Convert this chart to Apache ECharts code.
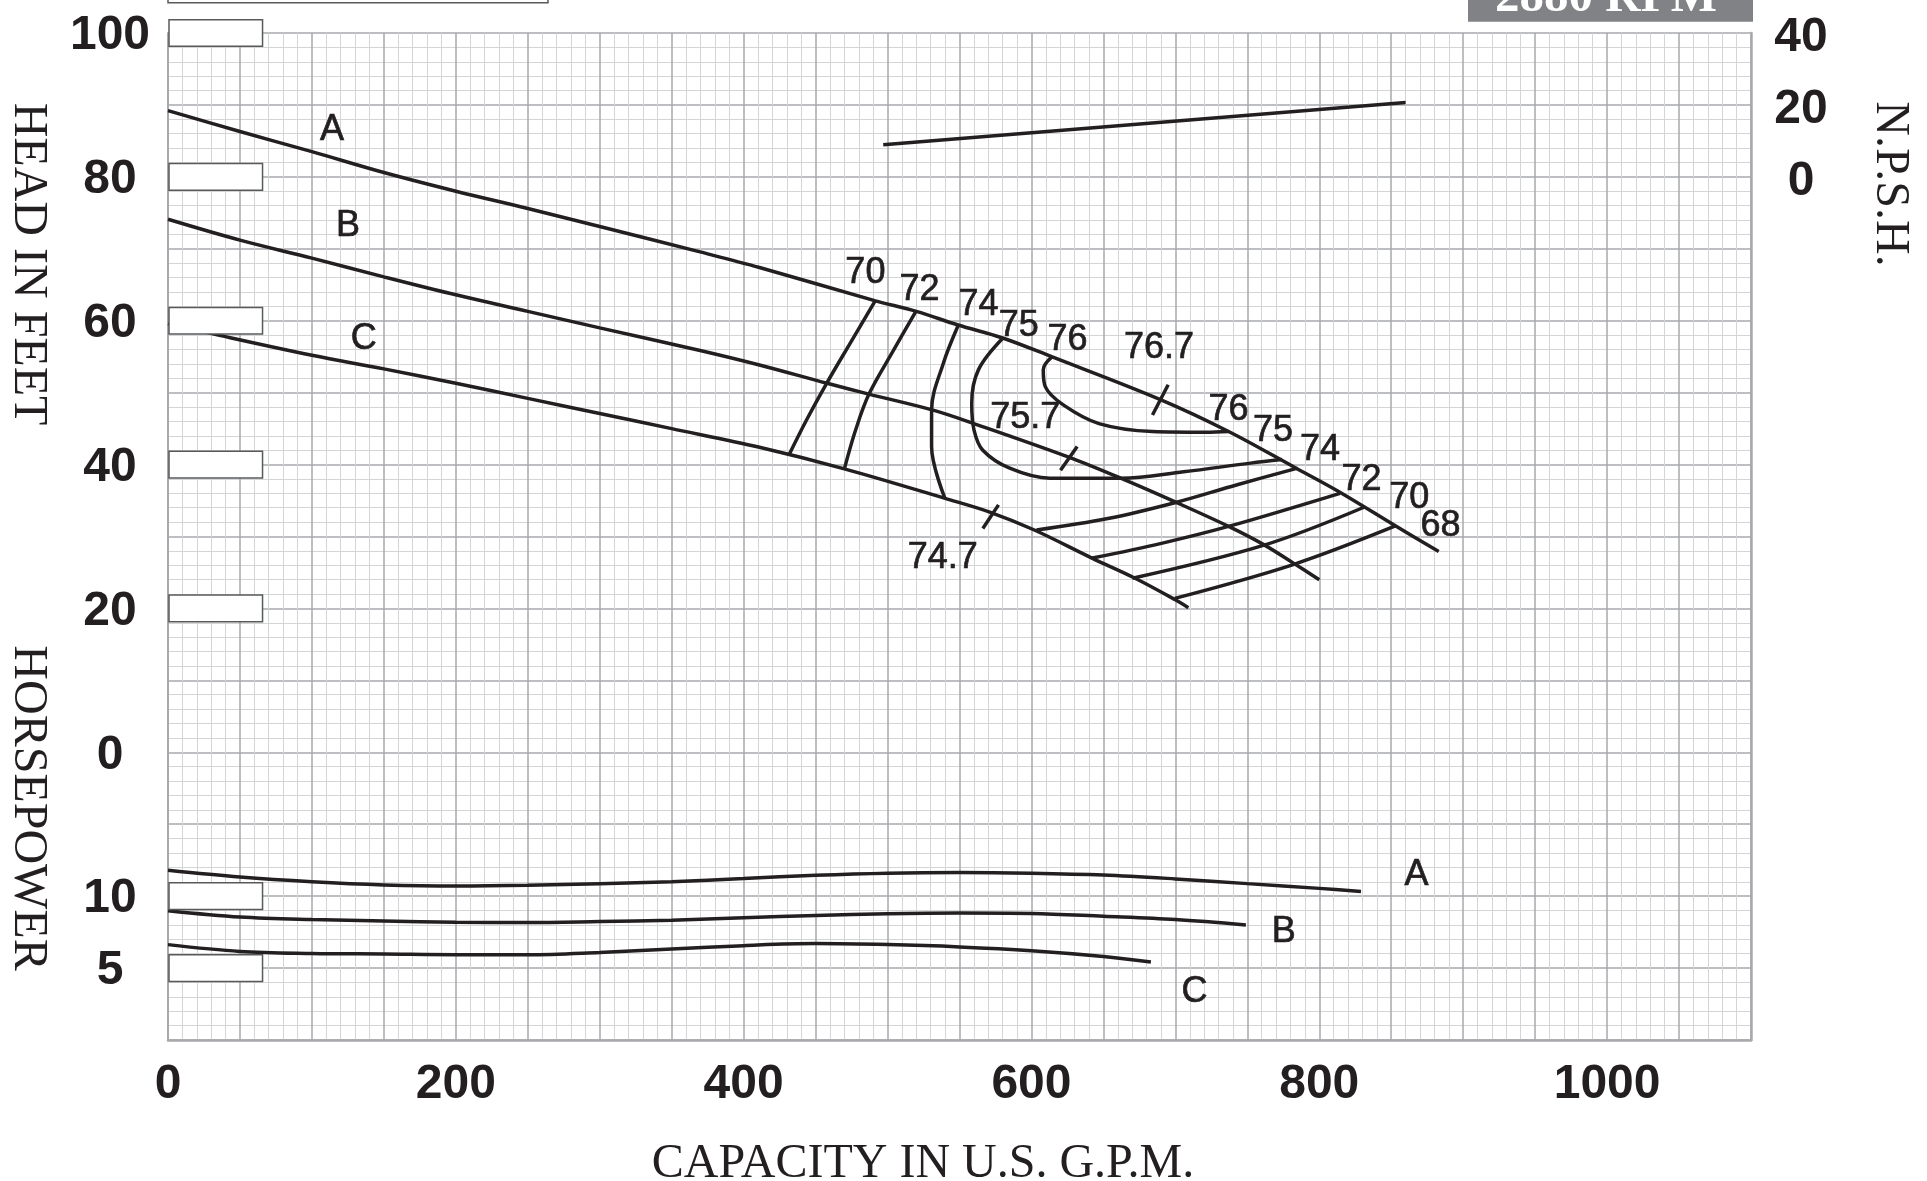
<!DOCTYPE html>
<html><head><meta charset="utf-8">
<script src="https://cdn.jsdelivr.net/npm/echarts@6/dist/echarts.min.js"></script>
<style>html,body{margin:0;padding:0;background:#fff}#c{width:1927px;height:1181px}</style>
</head><body><div id="c"></div>
<script>
// ---- tick label values ----
const headTicks = [0, 20, 40, 60, 80, 100];
const hpTicks = [5, 10];
const npshTicks = [0, 20, 40];
const capacityTicks = [0, 200, 400, 600, 800, 1000];
const headBoxes = [100, 80, 60, 40, 20];
const hpBoxes = [10, 5];

// ---- head curves (GPM, feet) ----
const headA = [[0,89.2],[50,86.3],[100,83.5],[150,80.6],[200,78.0],[250,75.6],[300,73.1],[369,69.6],[411,67.4],[491,62.8],[520,61.3],[549,59.4],[580,57.6],[614,55.0],[690,49.0],[737,44.6],[783,39.6],[814,36.2],[852,31.6],[883,27.9]];
const headB = [[0,74.1],[50,71.2],[100,68.7],[150,66.1],[200,63.6],[250,61.3],[300,59.0],[369,55.9],[411,53.85],[458,51.3],[487,49.8],[531,47.6],[560,45.7],[625,41.1],[662,38.1],[701,34.7],[737,31.4],[762,28.8],[782,26.3],[800,24.0]];
const headC = [[0,59.6],[35,58.0],[100,55.2],[150,53.3],[200,51.3],[250,49.2],[300,47.1],[350,45.0],[411,42.4],[470,39.4],[540,35.3],[571,33.4],[602,30.9],[642,27.0],[672,24.2],[700,21.2],[709,20.1]];

// ---- horsepower curves (GPM, HP) ----
const hpA = [[0,11.8],[50,11.33],[100,11.0],[150,10.78],[200,10.7],[250,10.75],[300,10.87],[350,11.0],[400,11.22],[450,11.45],[500,11.6],[550,11.65],[600,11.6],[650,11.47],[700,11.2],[750,10.87],[800,10.54],[829,10.33]];
const hpB = [[0,8.99],[50,8.55],[100,8.37],[150,8.28],[200,8.18],[250,8.16],[300,8.23],[350,8.32],[400,8.5],[450,8.65],[500,8.78],[550,8.83],[600,8.8],[650,8.6],[700,8.37],[749,8.0]];
const hpC = [[0,6.63],[50,6.16],[100,6.02],[150,5.98],[200,5.93],[250,5.93],[300,6.09],[350,6.33],[400,6.56],[450,6.7],[500,6.63],[550,6.47],[600,6.21],[650,5.81],[683,5.42]];

// ---- NPSH (GPM, feet) ----
const npsh = [[497,8.9],[860,20.7]];

// ---- efficiency contours (GPM, head feet) ----
const eff70L = [[491.5,62.8],[474.7,57.1],[457.7,51.3],[443.7,46.2],[431.4,41.3]];
const eff72L = [[519.7,61.3],[504.2,55.9],[487.1,49.8],[477.8,44.8],[470,39.4]];
const eff74L = [[549.2,59.4],[538.8,54.1],[530.6,47.6],[530.6,42.5],[539.9,35.3]];
const eff75 = [[580.2,57.6],[563.2,53.2],[558.5,48.5],[560.1,44.8],[566.2,42.0],[584.9,39.5],[612.8,38.1],[662.4,38.1],[705.7,39.0],[752.3,40.2],[774.1,40.7]];
const eff76 = [[614.4,55.0],[608.2,53.2],[609.7,50.8],[622.1,48.3],[646.9,45.7],[684.1,44.6],[721.3,44.5],[736.9,44.6]];
const eff74R = [[785,39.5],[743,37.2],[699.6,34.7],[653.1,32.5],[603.5,30.9]];
const eff72R = [[814.4,36.0],[736.9,31.4],[690.3,29.05],[642.3,27.0]];
const eff70R = [[831.5,34.1],[761.7,28.8],[670.2,24.2]];
const eff68R = [[853.3,31.5],[781.9,26.1],[699.6,21.4]];
const tickA = [[684.1,46.9],[695,51.1]];
const tickB = [[620.2,39.2],[631.8,42.5]];
const tickC = [[566.2,31.1],[577.1,34.4]];

// ---- text annotations ----
const effLabels = [
  [484.6,66.6,'70'],[522.2,64.3,'72'],[563.2,62.2,'74'],[591.1,59.2,'75'],[625.1,57.3,'76'],
  [688.7,56.2,'76.7'],[736.9,47.6,'76'],[767.9,44.6,'75'],[800.5,42.0,'74'],[829.4,37.8,'72'],
  [862.6,35.3,'70'],[884.3,31.4,'68'],[595.7,46.4,'75.7'],[538.3,27.0,'74.7']
];
const headCurveLabels = [[114,86.5,'A'],[125,73.2,'B'],[136,57.4,'C']];
const hpCurveLabels = [[867.5,11.45,'A'],[775.4,7.5,'B'],[713.3,3.35,'C']];

const INK = '#231f20';
const MAJOR = '#a7a9ac';
const MINOR = '#d4d5d7';
const tickFont = {fontSize: 48, fontWeight: 'bold', fontFamily: 'Liberation Sans', color: INK};

function curve(data, yIdx, smooth) {
  return {type: 'line', xAxisIndex: 0, yAxisIndex: yIdx, data: data, smooth: smooth === undefined ? 0.35 : smooth,
    symbol: 'none', silent: true, z: 3, lineStyle: {color: INK, width: 3.5, opacity: 1}};
}
function labels(list, yIdx, size) {
  return {type: 'scatter', xAxisIndex: 0, yAxisIndex: yIdx, symbolSize: 1, z: 6, silent: true,
    itemStyle: {color: 'rgba(0,0,0,0)'},
    data: list.map(d => ({value: [d[0], d[1]], name: d[2]})),
    label: {show: true, position: 'inside', formatter: p => p.name, fontSize: size,
      fontFamily: 'Liberation Sans', color: INK, opacity: 1,
      textBorderColor: INK, textBorderWidth: 0.7}};
}
function boxes(vals, yIdx, halfH) {
  return {type: 'custom', xAxisIndex: 0, yAxisIndex: yIdx, z: 5, silent: true,
    data: vals.map(v => [0, v]),
    renderItem: (params, api) => {
      const p0 = api.coord([0, api.value(1)]);
      const p1 = api.coord([65, api.value(1)]);
      const h = api.size([0, halfH * 2])[1];
      return {type: 'rect', shape: {x: p0[0] + 1, y: p0[1] - h / 2, width: p1[0] - p0[0], height: h},
        style: {fill: '#fff', stroke: '#58595b', lineWidth: 1.5}};
    }};
}

const chart = echarts.init(document.getElementById('c'), null, {renderer: 'canvas'});
chart.setOption({
  animation: false,
  backgroundColor: '#fff',
  grid: {left: 168, top: 33, width: 1583, height: 1007, containLabel: false},
  xAxis: {type: 'value', min: 0, max: 1100, interval: 50,
    axisLine: {show: true, onZero: false, lineStyle: {color: MAJOR, width: 2.5}},
    axisTick: {show: false},
    axisLabel: {...tickFont, margin: 21, formatter: v => capacityTicks.includes(v) ? String(v) : ''},
    splitLine: {show: true, lineStyle: {color: MAJOR, width: 1.5}},
    minorTick: {show: false, splitNumber: 5},
    minorSplitLine: {show: true, lineStyle: {color: MINOR, width: 1}}},
  yAxis: [
    {type: 'value', min: -40, max: 100, interval: 10, position: 'left',
      axisLine: {show: true, onZero: false, lineStyle: {color: MAJOR, width: 2}},
      axisTick: {show: false},
      axisLabel: {...tickFont, align: 'center', verticalAlign: 'top', lineHeight: 6, margin: 58, formatter: v => headTicks.includes(v) ? String(v) : ''},
      splitLine: {show: true, lineStyle: {color: MAJOR, width: 1.5}},
      minorTick: {show: false, splitNumber: 5},
      minorSplitLine: {show: true, lineStyle: {color: MINOR, width: 1}}},
    {type: 'value', min: 0, max: 70, interval: 5, position: 'left',
      axisLine: {show: false}, axisTick: {show: false}, splitLine: {show: false},
      axisLabel: {...tickFont, align: 'center', verticalAlign: 'top', lineHeight: 6, margin: 58, formatter: v => hpTicks.includes(v) ? String(v) : ''}},
    {type: 'value', min: -240, max: 40, interval: 20, position: 'right',
      axisLine: {show: true, onZero: false, lineStyle: {color: MAJOR, width: 2.5}}, axisTick: {show: false}, splitLine: {show: false},
      axisLabel: {...tickFont, align: 'center', verticalAlign: 'top', lineHeight: 9, margin: 50, formatter: v => npshTicks.includes(v) ? String(v) : ''}}
  ],
  graphic: [
    {type: 'rect', shape: {x: 168, y: -40, width: 380, height: 42.7}, style: {fill: 'none', stroke: '#58595b', lineWidth: 1.5}},
    {type: 'rect', shape: {x: 1468, y: -10, width: 285, height: 31.7}, style: {fill: '#808285'}},
    {type: 'text', x: 1606, y: -2, style: {text: '2880 RPM', fill: '#fff', font: 'bold 49px "Liberation Serif"', align: 'center', verticalAlign: 'middle'}},
    {type: 'text', x: 28, y: 264, rotation: -Math.PI / 2, style: {text: 'HEAD IN FEET', fill: INK, font: '48px "Liberation Serif"', align: 'center', verticalAlign: 'middle'}},
    {type: 'text', x: 28, y: 808, rotation: -Math.PI / 2, style: {text: 'HORSEPOWER', fill: INK, font: '48px "Liberation Serif"', align: 'center', verticalAlign: 'middle'}},
    {type: 'text', x: 1890, y: 184, rotation: -Math.PI / 2, style: {text: 'N.P.S.H.', fill: INK, font: '48px "Liberation Serif"', align: 'center', verticalAlign: 'middle'}},
    {type: 'text', x: 923, y: 1164, style: {text: 'CAPACITY IN U.S. G.P.M.', fill: INK, font: '48px "Liberation Serif"', align: 'center', verticalAlign: 'middle'}}
  ],
  series: [
    curve(headA, 0), curve(headB, 0), curve(headC, 0),
    curve(hpA, 1), curve(hpB, 1), curve(hpC, 1),
    curve(npsh, 2, false),
    curve(eff70L, 0), curve(eff72L, 0), curve(eff74L, 0), curve(eff75, 0), curve(eff76, 0),
    curve(eff74R, 0), curve(eff72R, 0), curve(eff70R, 0), curve(eff68R, 0),
    curve(tickA, 0, false), curve(tickB, 0, false), curve(tickC, 0, false),
    labels(effLabels, 0, 36), labels(headCurveLabels, 0, 36), labels(hpCurveLabels, 1, 36),
    boxes(headBoxes, 0, 1.85), boxes(hpBoxes, 1, 0.925)
  ]
});
</script></body></html>
